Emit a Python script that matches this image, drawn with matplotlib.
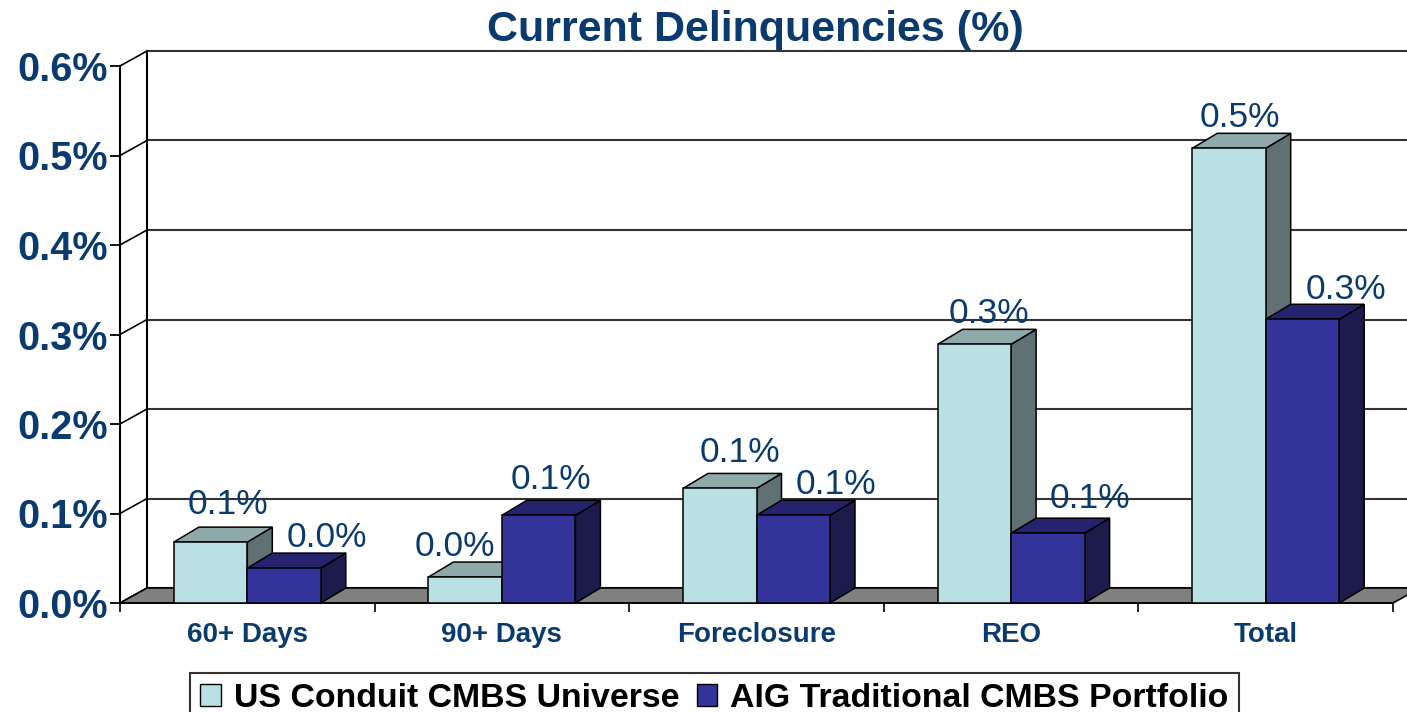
import matplotlib
matplotlib.use("Agg")
import matplotlib.pyplot as plt
from matplotlib.patches import Polygon, Patch

# ---------------- data ----------------
categories = ["60+ Days", "90+ Days", "Foreclosure", "REO", "Total"]
series_names = ["US Conduit CMBS Universe", "AIG Traditional CMBS Portfolio"]
us_values = [0.068, 0.029, 0.128, 0.289, 0.508]
aig_values = [0.039, 0.098, 0.098, 0.078, 0.317]
y_ticks = [0.0, 0.1, 0.2, 0.3, 0.4, 0.5, 0.6]
title = "Current Delinquencies (%)"

# label placement tweaks (pixels): horizontal shift from bar centre, gap above top
us_lbl_dx = [17, -10, 20, 15, 11]
us_lbl_gap = [13, 6, 11, 6, 6]
aig_lbl_dx = [43, 12, 43, 42, 43]
aig_lbl_gap = [6, 11, 6, 10, 5]

# ---------------- style ----------------
plt.rcParams["font.family"] = ["Liberation Sans", "DejaVu Sans"]
NAVY = "#0B3A6E"
US_FACE, US_TOP, US_SIDE = "#B9E0E3", "#8FA9AB", "#5F7173"
AIG_FACE, AIG_TOP, AIG_SIDE = "#34339A", "#25236D", "#1D1B4C"
FLOOR = "#808080"

W, H = 1407, 712
fig = plt.figure(figsize=(W / 100, H / 100), dpi=100)
L, R, B, T = 120, 1393, 603, 66
ax = fig.add_axes([L / W, 1 - B / H, (R - L) / W, (B - T) / H])
n = len(categories)
ax.set_xlim(-0.5, n - 0.5)
ax.set_ylim(0, 0.6)

pxx = (R - L) / n          # pixels per category
pxy = (B - T) / 0.6        # pixels per unit value
wdx, wdy = 27 / pxx, 15 / pxy   # wall depth
bdx, bdy = 25 / pxx, 15 / pxy   # bar depth
bw = 73.5 / pxx                 # bar width

# back wall gridlines and left wall
for v in y_ticks:
    ax.plot([-0.5 + wdx, n + 1], [v + wdy, v + wdy], color="#333333", lw=1.5,
            clip_on=False, zorder=1, solid_capstyle="butt")
    ax.plot([-0.5, -0.5 + wdx], [v, v + wdy], color="black", lw=1.2,
            clip_on=False, zorder=1)
ax.plot([-0.5 + wdx, -0.5 + wdx], [wdy, 0.6 + wdy], color="black", lw=1.5,
        clip_on=False, zorder=1)

# floor
ax.add_patch(Polygon([(-0.5, 0), (n - 0.5, 0), (n - 0.5 + wdx, wdy), (-0.5 + wdx, wdy)],
                     closed=True, facecolor=FLOOR, edgecolor="black", lw=1.2,
                     clip_on=False, zorder=2))


def draw_bar(x0, v, face, top, side, z):
    kw = dict(closed=True, edgecolor="black", lw=1.1, clip_on=False, zorder=z,
              joinstyle="miter")
    ax.add_patch(Polygon([(x0 + bw, 0), (x0 + bw + bdx, bdy), (x0 + bw + bdx, v + bdy),
                          (x0 + bw, v)], facecolor=side, **kw))
    ax.add_patch(Polygon([(x0, v), (x0 + bdx, v + bdy), (x0 + bw + bdx, v + bdy),
                          (x0 + bw, v)], facecolor=top, **kw))
    ax.add_patch(Polygon([(x0, 0), (x0 + bw, 0), (x0 + bw, v), (x0, v)],
                         facecolor=face, **kw))


z = 3
for i in range(n):
    x_us = i - bw
    x_aig = i
    draw_bar(x_us, us_values[i], US_FACE, US_TOP, US_SIDE, z)
    draw_bar(x_aig, aig_values[i], AIG_FACE, AIG_TOP, AIG_SIDE, z + 1)
    z += 2
    for x0, v, dx, gap in [(x_us, us_values[i], us_lbl_dx[i], us_lbl_gap[i]),
                           (x_aig, aig_values[i], aig_lbl_dx[i], aig_lbl_gap[i])]:
        ax.annotate(f"{v:.1f}%", xy=(x0 + bw / 2, v + bdy), xytext=(dx, gap),
                    textcoords="offset pixels", ha="center", va="baseline",
                    fontsize=25.5, color=NAVY, zorder=50, annotation_clip=False)

# axes decorations
for s in ["top", "right"]:
    ax.spines[s].set_visible(False)
ax.spines["left"].set_linewidth(1.5)
ax.spines["bottom"].set_linewidth(1.2)
ax.spines["left"].set_zorder(2.5)
ax.spines["bottom"].set_zorder(2.5)
ax.set_yticks(y_ticks)
ax.set_yticklabels([f"{v:.1f}%" for v in y_ticks], fontsize=28.5, fontweight="bold",
                   color=NAVY)
ax.tick_params(axis="y", length=7.2, width=1.3, pad=1.5)
ax.set_xticks(range(n))
ax.set_xticklabels(categories, fontsize=20, fontweight="bold", color=NAVY)
ax.set_xticks([i - 0.5 for i in range(n + 1)], minor=True)
ax.tick_params(axis="x", which="major", length=0, pad=14)
ax.tick_params(axis="x", which="minor", length=6.5, width=1.2, direction="out")
ax.patch.set_visible(False)

fig.text(755 / W, 1 - 30 / H, title, ha="center", va="center", fontsize=31,
         fontweight="bold", color=NAVY)

handles = [Patch(facecolor=US_FACE, edgecolor="black", lw=1.0),
           Patch(facecolor=AIG_FACE, edgecolor="black", lw=1.0)]
leg = fig.legend(handles, series_names, loc="upper left",
                 bbox_to_anchor=(190 / W, 1 - 673 / H), ncol=2,
                 prop={"size": 24.4, "weight": "bold"}, frameon=True, fancybox=False,
                 shadow=False, borderaxespad=0, borderpad=0.3, handlelength=0.6,
                 handleheight=0.6, handletextpad=0.4, columnspacing=0.5)
leg.get_frame().set_edgecolor("black")
leg.get_frame().set_linewidth(1.5)

fig.savefig("out.png", dpi=100)
